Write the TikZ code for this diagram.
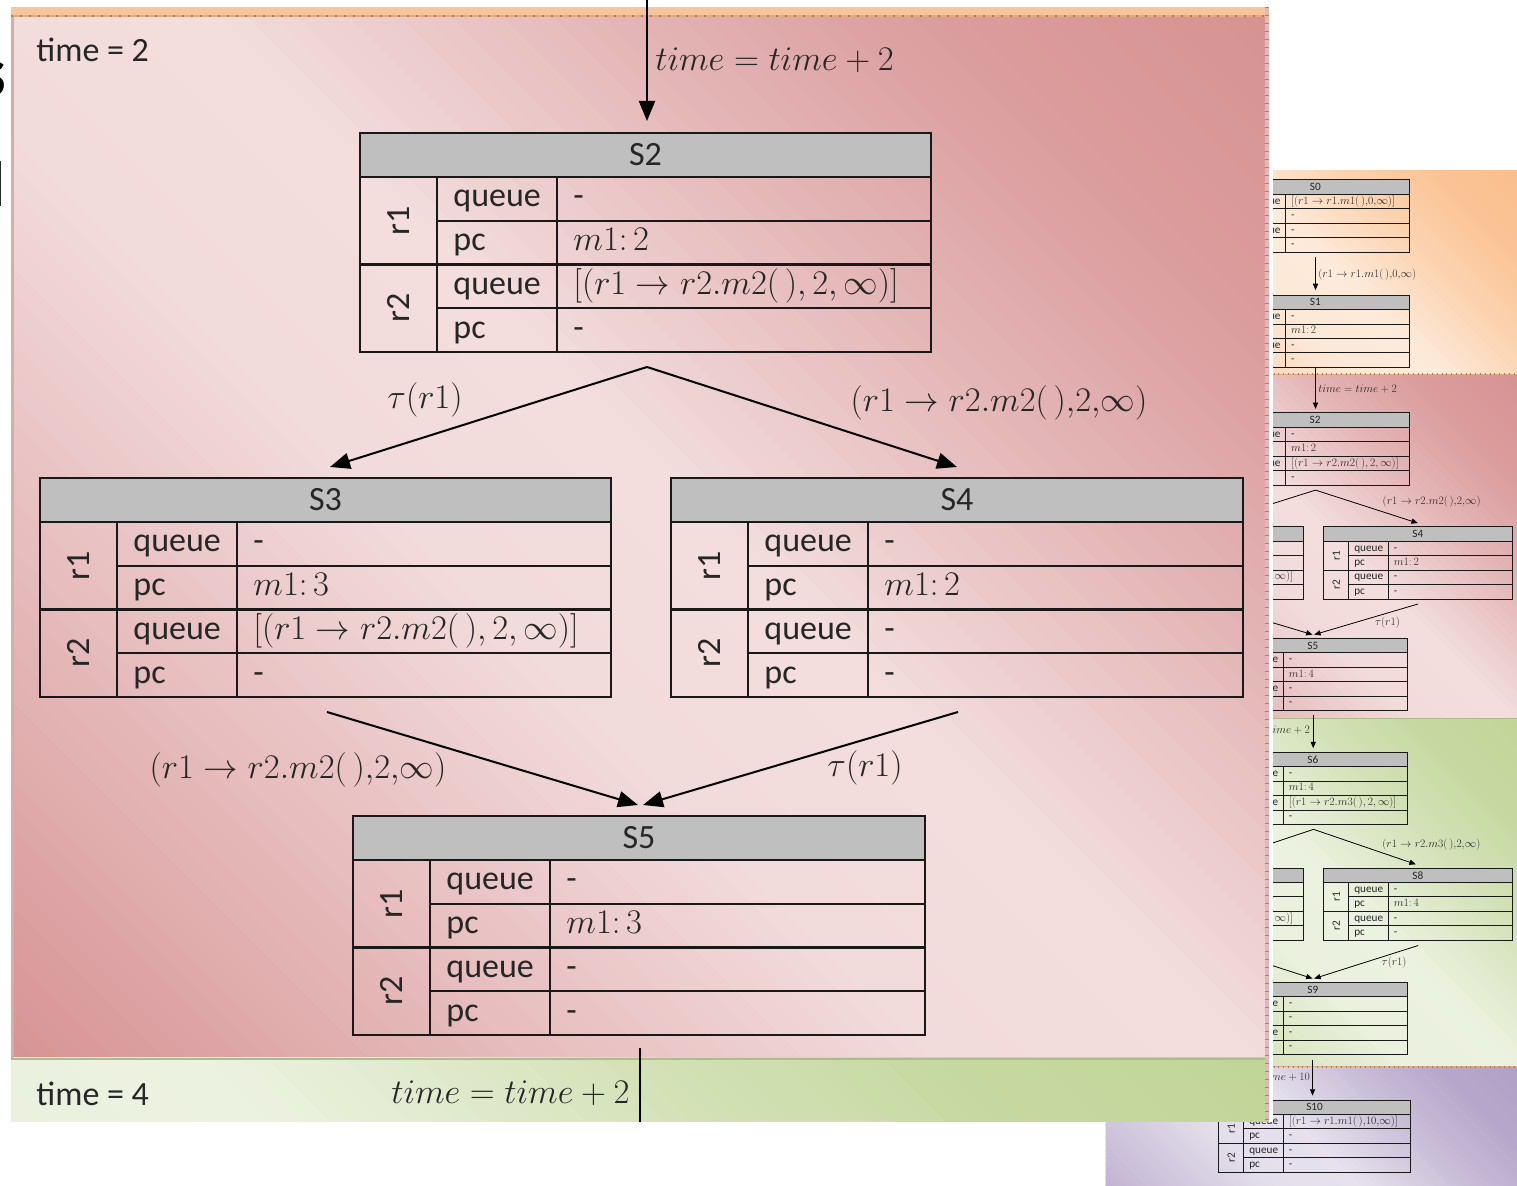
\documentclass[tikz,border=0pt]{standalone}
\usepackage{fontspec}
\newfontfamily\calfont{Carlito}
\usetikzlibrary{arrows.meta}

\definecolor{pinkD}{RGB}{215,147,148}
\definecolor{pinkL}{RGB}{243,221,221}
\definecolor{orD}{RGB}{250,190,140}
\definecolor{orL}{RGB}{253,234,218}
\definecolor{orS}{RGB}{248,196,156}
\definecolor{grD}{RGB}{193,213,152}
\definecolor{grL}{RGB}{236,242,224}
\definecolor{puD}{RGB}{177,160,198}
\definecolor{puL}{RGB}{230,225,237}
\definecolor{hdr}{RGB}{191,191,191}
\definecolor{tick}{RGB}{180,120,90}
\definecolor{tickL}{RGB}{222,170,130}
\definecolor{rulerc}{RGB}{225,185,185}
\definecolor{rulert}{RGB}{165,130,130}

% diagonal gradient: dark at bottom-left and top-right corners, light along the other diagonal
% #1 x0, #2 y0 (top), #3 x1, #4 y1 (bottom), #5 dark, #6 light
\newcommand\gradrect[6]{%
  \begin{scope}
    \clip (#1,#2) rectangle (#3,#4);
    \pgfmathsetmacro\gS{(#3-#1)+(#4-#2)}
    \pgfmathsetmacro\gD{\gS/90}
    \foreach \k in {0,...,89} {
      \pgfmathsetmacro\gA{\gD*\k}
      \pgfmathsetmacro\gB{\gD*(\k+1)+4}
      \pgfmathsetmacro\gT{(\k+0.5)/90}
      \pgfmathsetmacro\gP{\gT<0.18 ? 100-45*\gT/0.18 : (\gT<0.40 ? 55-52*(\gT-0.18)/0.22 : (\gT<0.54 ? 3-3*(\gT-0.40)/0.14 : (\gT<0.72 ? 55*(\gT-0.54)/0.18 : (\gT<0.86 ? 55+33*(\gT-0.72)/0.14 : 88+12*(\gT-0.86)/0.14))))}
      \fill[#5!\gP!#6] ({#1+\gA/2-\gS},{#4-\gA/2-\gS}) -- ({#1+\gA/2+\gS},{#4-\gA/2+\gS})
        -- ({#1+\gB/2+\gS},{#4-\gB/2+\gS}) -- ({#1+\gB/2-\gS},{#4-\gB/2-\gS}) -- cycle;
    }
  \end{scope}}

\newcommand\tf{\calfont\fontsize{17pt}{20pt}\selectfont}
\newcommand\mf{\fontsize{17pt}{20pt}\selectfont}

\tikzset{
  tblline/.style={line width=1.1pt, draw=black!90},
  hdrtext/.style={font=\tf, inner sep=0pt, text=black!85},
  celltext/.style={font=\tf, anchor=base west, inner sep=0pt, text=black!85},
  rlab/.style={font=\tf, rotate=90, inner sep=0pt, text=black!85},
  conn/.style={line width=1pt, draw=black, -{Triangle[length=10pt,width=8pt]}},
  lbl/.style={font=\mf, inner sep=0pt, text=black!85},
  secline/.style={draw=tick, line width=1.3pt, dash pattern=on 0.8pt off 3.7pt},
  secbase/.style={draw=tickL, line width=0.9pt},
  tblnode/.style={inner sep=0pt, outer sep=0pt, anchor=north west},
}

% #1 prefix, #2 label, #3 x, #4 y, #5 width, #6-#9 values
\newcommand\stbl[9]{%
  \fill[hdr] (#3,#4) rectangle ({#3+#5},{#4+44});
  \node[tblnode, minimum width={#5*0.5pt}, minimum height={219*0.5pt}] (#1#2) at (#3,#4) {};
  \draw[tblline] (#3,#4) rectangle ({#3+#5},{#4+219});
  \draw[tblline] (#3,{#4+44}) -- ({#3+#5},{#4+44})
                 (#3,{#4+131.5}) -- ({#3+#5},{#4+131.5})
                 ({#3+77},{#4+87.75}) -- ({#3+#5},{#4+87.75})
                 ({#3+77},{#4+175.25}) -- ({#3+#5},{#4+175.25})
                 ({#3+77},{#4+44}) -- ({#3+77},{#4+219})
                 ({#3+197},{#4+44}) -- ({#3+197},{#4+219});
  \node[hdrtext] (#1#2h) at ({#3+#5/2},{#4+22}) {#2};
  \node[rlab] (#1#2ra) at ({#3+38.5},{#4+87.75}) {r1};
  \node[rlab] (#1#2rb) at ({#3+38.5},{#4+175.25}) {r2};
  \node[celltext] (#1#2n1) at ({#3+93},{#4+74}) {queue};
  \node[celltext] (#1#2n2) at ({#3+93},{#4+117.6}) {pc};
  \node[celltext] (#1#2n3) at ({#3+93},{#4+161.4}) {queue};
  \node[celltext] (#1#2n4) at ({#3+93},{#4+205.1}) {pc};
  \node[celltext] (#1#2v1) at ({#3+213},{#4+74}) {#6};
  \node[celltext] (#1#2v2) at ({#3+213},{#4+117.6}) {#7};
  \node[celltext] (#1#2v3) at ({#3+213},{#4+161.4}) {#8};
  \node[celltext] (#1#2v4) at ({#3+213},{#4+205.1}) {#9};
}

% section backgrounds of the slide
\newcommand\slidebg{%
  \gradrect{11}{-603}{1268}{17}{orD}{orL}
  \gradrect{11}{17}{1268}{1058}{pinkD}{pinkL}
  \gradrect{11}{1058}{1268}{2115}{grD}{grL}
  \gradrect{11}{2115}{1268}{2700}{puD}{puL}
  \draw[secbase] (11,16) -- (1268,16);
  \draw[secline] (11,16) -- (1268,16);
  \draw[secbase] (11,2115) -- (1268,2115);
  \draw[secline] (11,2115) -- (1268,2115);
  \draw[draw=grD!85!black!90, line width=0.8pt] (11,1059) -- (1268,1059);
}

% #1 prefix, #2 pc value of S5
\newcommand\slidefg[2]{%
  \stbl{#1}{S0}{360}{-573}{573}{$[(r1\rightarrow r1.m1(\,){,}0{,}\infty)]$}{-}{-}{-}
  \stbl{#1}{S1}{360}{-224}{573}{-}{$m1\colon 2$}{-}{-}
  \stbl{#1}{S2}{360}{133}{571}{-}{$m1\colon 2$}{$[(r1\rightarrow r2.m2(\,), 2, \infty)]$}{-}
  \stbl{#1}{S3}{40}{478}{571}{-}{$m1\colon 3$}{$[(r1\rightarrow r2.m2(\,), 2, \infty)]$}{-}
  \stbl{#1}{S4}{671}{478}{572}{-}{$m1\colon 2$}{-}{-}
  \stbl{#1}{S5}{353}{816}{572}{-}{#2}{-}{-}
  \stbl{#1}{S6}{353}{1161}{572}{-}{$m1\colon 4$}{$[(r1\rightarrow r2.m3(\,), 2, \infty)]$}{-}
  \stbl{#1}{S7}{40}{1512}{571}{-}{$m1\colon 5$}{$[(r1\rightarrow r2.m3(\,), 2, \infty)]$}{-}
  \stbl{#1}{S8}{671}{1512}{572}{-}{$m1\colon 4$}{-}{-}
  \stbl{#1}{S9}{353}{1858}{572}{-}{-}{-}{-}
  \stbl{#1}{S10}{353}{2215}{582}{$[(r1\rightarrow r1.m1(\,){,}10{,}\infty)]$}{-}{-}{-}
  % S0 -> S1
  \coordinate (#1a01s) at (647,-339);
  \coordinate (#1a01e) at (647,-239);
  \draw[conn] (#1a01s) -- (#1a01e);
  \node[lbl, anchor=west] (#1l01) at (655,-285) {$(r1\rightarrow r1.m1(\,){,}0{,}\infty)$};
  % S1 -> S2
  \coordinate (#1a12s) at (647,-4);
  \coordinate (#1a12e) at (647,121);
  \draw[conn] (#1a12s) -- (#1a12e);
  \node[lbl, anchor=west] (#1l12) at (655,60) {$time = time + 2$};
  % S2 -> S3, S4
  \coordinate (#1f2) at (647,367);
  \coordinate (#1f2a) at (330,467);
  \coordinate (#1f2b) at (957,467);
  \draw[conn] (#1f2) -- (#1f2a);
  \draw[conn] (#1f2) -- (#1f2b);
  \node[lbl] (#1l23) at (425,400) {$\tau(r1)$};
  \node[lbl] (#1l24) at (999,403) {$(r1\rightarrow r2.m2(\,){,}2{,}\infty)$};
  % S3, S4 -> S5
  \coordinate (#1j3) at (327,712);
  \coordinate (#1j4) at (958,712);
  \coordinate (#1j5a) at (638,805);
  \coordinate (#1j5b) at (643,805);
  \draw[conn] (#1j3) -- (#1j5a);
  \draw[conn] (#1j4) -- (#1j5b);
  \node[lbl] (#1l35) at (298,770) {$(r1\rightarrow r2.m2(\,){,}2{,}\infty)$};
  \node[lbl] (#1l45) at (865,768) {$\tau(r1)$};
  % S5 -> S6
  \coordinate (#1a56s) at (640,1048);
  \coordinate (#1a56e) at (640,1149);
  \draw[conn] (#1a56s) -- (#1a56e);
  \node[lbl, anchor=east] (#1l56) at (630,1093) {$time = time + 2$};
  % S6 -> S7, S8
  \coordinate (#1f6) at (641,1395);
  \coordinate (#1f6a) at (324,1501);
  \coordinate (#1f6b) at (951,1501);
  \draw[conn] (#1f6) -- (#1f6a);
  \draw[conn] (#1f6) -- (#1f6b);
  \node[lbl] (#1l67) at (419,1428) {$\tau(r1)$};
  \node[lbl] (#1l68) at (998,1442) {$(r1\rightarrow r2.m3(\,){,}2{,}\infty)$};
  % S7, S8 -> S9
  \coordinate (#1j7) at (327,1747);
  \coordinate (#1j8) at (958,1747);
  \coordinate (#1j9a) at (638,1847);
  \coordinate (#1j9b) at (643,1847);
  \draw[conn] (#1j7) -- (#1j9a);
  \draw[conn] (#1j8) -- (#1j9b);
  \node[lbl] (#1l79) at (298,1805) {$(r1\rightarrow r2.m3(\,){,}2{,}\infty)$};
  \node[lbl] (#1l89) at (885,1800) {$\tau(r1)$};
  % S9 -> S10
  \coordinate (#1a910s) at (638,2094);
  \coordinate (#1a910e) at (638,2202);
  \draw[conn] (#1a910s) -- (#1a910e);
  \node[lbl, anchor=east] (#1l910) at (630,2145) {$time = time + 10$};
}

\begin{document}
\begin{tikzpicture}[x=0.5pt,y=-0.5pt]
\useasboundingbox (0,0) rectangle (1517,1186);
\clip (0,0) rectangle (1517,1186);
\fill[white] (0,0) rectangle (1517,1186);
% thumbnail of the whole slide
\begin{scope}[shift={(1102,369)}, scale=0.33, transform shape,
   tblline/.style={line width=0.45pt, draw=black!90},
   conn/.style={line width=0.4pt, draw=black, -{Triangle[length=3.2pt,width=2.6pt]}},
   secline/.style={draw=tick, line width=0.9pt, dash pattern=on 0.5pt off 1.9pt},
   secbase/.style={draw=tickL, line width=0.5pt}]
  \slidebg
  \slidefg{t}{$m1\colon 4$}
\end{scope}
% zoomed panel
\fill[white] (9,-5) rectangle (1273,1122);
\begin{scope}
  \clip (11,7) rectangle (1269,1122);
  \gradrect{11}{17}{1269}{1058}{pinkD}{pinkL}
  \gradrect{11}{1058}{1269}{2115}{grD}{grL}
  \draw[draw=grD!85!black!90, line width=0.8pt] (11,1059) -- (1269,1059);
  \fill[orS] (11,7) rectangle (1269,15.5);
  \draw[secbase] (11,16) -- (1269,16);
  \draw[secline] (11,16) -- (1269,16);
  \draw[draw=pinkD!80!white, line width=1.2pt] (12.5,17) -- (12.5,1058);
\end{scope}
\begin{scope}
  \clip (11,7) rectangle (1269,1122) (640,-5) rectangle (655,8);
  \slidefg{m}{$m1\colon 3$}
  \node[celltext] (time2) at (36,62) {time = 2};
  \node[celltext] (time4) at (36,1106) {time = 4};
\end{scope}
% right ruler strip
\draw[draw=rulerc, line width=2pt] (1267,7) -- (1267,1122);
\draw[draw=rulert, line width=2pt, dash pattern=on 0.5pt off 3.5pt] (1267,7) -- (1267,1122);
% cut-off glyphs at the left edge
\node[anchor=base east, inner sep=0pt, font=\calfont\bfseries\fontsize{36pt}{40pt}\selectfont] (fragS) at (7,97) {s};
\node[anchor=base east, inner sep=0pt, font=\calfont\bfseries\fontsize{32pt}{36pt}\selectfont] (fragL) at (6,207) {l};
\end{tikzpicture}
\end{document}
